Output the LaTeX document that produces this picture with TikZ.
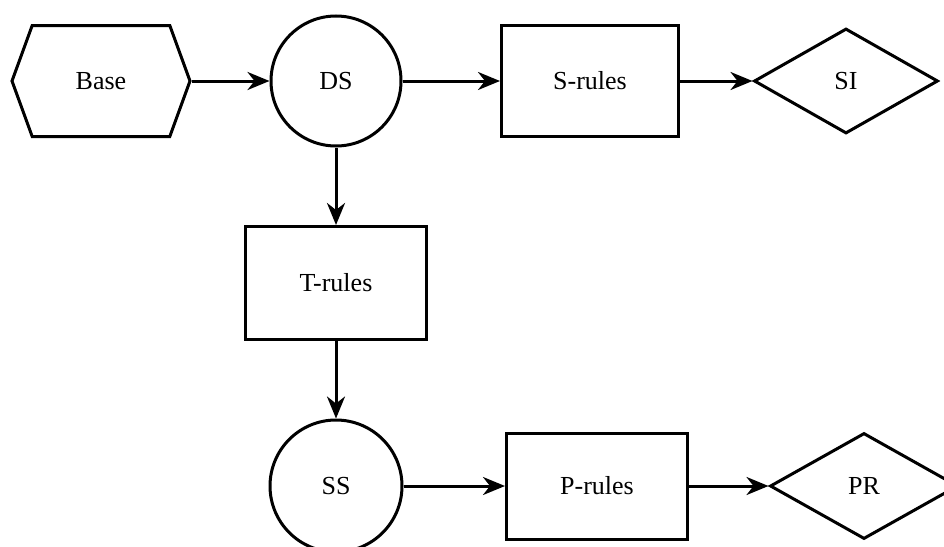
\documentclass[tikz,border=0pt]{standalone}
\usepackage{fontspec}
\setmainfont{Liberation Serif}
\usetikzlibrary{shapes.geometric,shapes.symbols,arrows.meta}
\begin{document}
\begin{tikzpicture}[x=1pt,y=-1pt, line width=3pt,
  every node/.style={font=\fontsize{26}{30}\selectfont, line width=3pt, inner sep=0pt},
  hexbox/.style={draw, signal, signal to=west and east, signal pointer angle=140,
     minimum width=178pt, minimum height=111pt},
  circbox/.style={draw, circle, minimum size=130pt},
  rulebox/.style={draw, rectangle, minimum width=177pt, minimum height=111pt},
  diabox/.style={draw, diamond, minimum width=184pt, minimum height=105pt},
  conn/.style={line width=3pt, -{Stealth[length=22pt,width=18pt,inset=7pt]}}]
\useasboundingbox (0,0) rectangle (944,546);
\node[hexbox] (base) at (101,81) {Base};
\node[circbox] (ds) at (336,81) {DS};
\node[rulebox] (srules) at (590,81) {S-rules};
\node[diabox] (si) at (846,81) {SI};
\node[rulebox, minimum width=181pt, minimum height=113pt] (trules) at (336,283) {T-rules};
\node[circbox, minimum size=132pt] (ss) at (336,486) {SS};
\node[rulebox, minimum width=181pt, minimum height=106pt] (prules) at (597,486) {P-rules};
\node[diabox, minimum width=188pt, minimum height=106pt] (pr) at (864,486) {PR};
\draw[conn] (base.east) -- (ds.west);
\draw[conn] (ds.east) -- (srules.west);
\draw[conn] (srules.east) -- (si.west);
\draw[conn] (ds.south) -- (trules.north);
\draw[conn] (trules.south) -- (ss.north);
\draw[conn] (ss.east) -- (prules.west);
\draw[conn] (prules.east) -- (pr.west);
\end{tikzpicture}
\end{document}
